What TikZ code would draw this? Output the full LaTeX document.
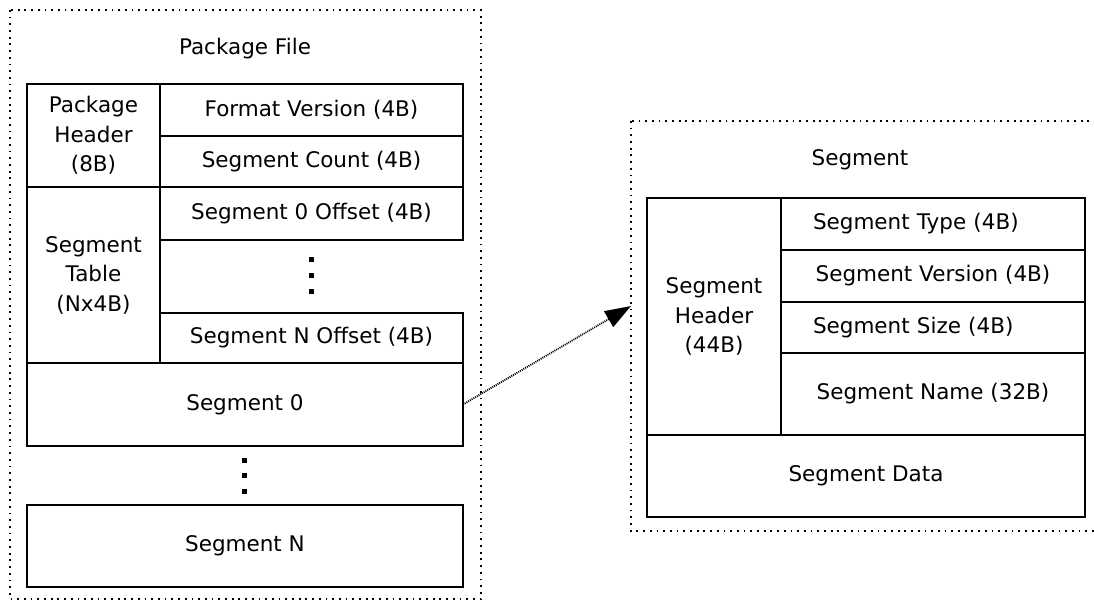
\documentclass[tikz,border=0pt]{standalone}
\usepackage{fontspec}
\setmainfont{DejaVu Sans}
\usetikzlibrary{arrows.meta,positioning}

\begin{document}
\begin{tikzpicture}[
    x=1pt, y=-1pt,
    every node/.style={
        font=\fontsize{21.5}{29.5}\selectfont
    },
    field/.style={
        draw, line width=1.8pt,
        rectangle,
        inner sep=0pt, outer sep=0pt,
        align=center
    },
    region/.style={
        draw, line width=1.8pt,
        dash pattern=on 1.8pt off 4.9pt
    },
    blob/.style={
        fill, rectangle,
        minimum size=5pt, inner sep=0pt
    },
    flow/.style={
        line width=1.8pt,
        dash pattern=on 1pt off 1pt,
        -{Triangle[length=26pt,width=18pt]}
    }
]
\fill[white] (0,0) rectangle (1094,601);
\useasboundingbox (0,0) rectangle (1094,601);

% package file
\draw[region] (10,10) rectangle (481,599);
\node (pkgtitle) at (245,49) {Package File};
\node[field, minimum width=133pt, minimum height=103pt, anchor=north west] (pkghdr) at (27,84) {Package\\Header\\(8B)};
\node[field, minimum width=303pt, minimum height=52pt, anchor=north west] (fmtver) at (pkghdr.north east) {Format Version (4B)};
\node[field, minimum width=303pt, minimum height=51pt, anchor=north] (segcount) at (fmtver.south) {Segment Count (4B)};
\node[field, minimum width=133pt, minimum height=176pt, anchor=north] (segtable) at (pkghdr.south) {Segment\\Table\\(Nx4B)};
\node[field, minimum width=303pt, minimum height=53pt, anchor=north] (off0) at (segcount.south) {Segment 0 Offset (4B)};
\node[field, minimum width=303pt, minimum height=50pt, anchor=south west] (offn) at (segtable.south east) {Segment N Offset (4B)};
\node[field, minimum width=436pt, minimum height=83pt, anchor=north west] (seg0) at (segtable.south west) {Segment 0};
\node[field, minimum width=436pt, minimum height=82pt, anchor=north west] (segn) at (27,505) {Segment N};
\foreach \y in {260,276,292} \node[blob] (tdot\y) at (311,\y) {};
\foreach \y in {460,475,491} \node[blob] (sdot\y) at (244,\y) {};

% segment
\draw[region] (631,121) rectangle (1100,531);
\node (segtitle) at (860,160) {Segment};
\node[field, minimum width=134pt, minimum height=237pt, anchor=north west] (seghdr) at (647,198) {Segment\\Header\\(44B)};
\node[field, minimum width=304pt, minimum height=52pt, anchor=north west, text width=240pt, align=left] (segtype) at (seghdr.north east) {Segment Type (4B)};
\node[field, minimum width=304pt, minimum height=52pt, anchor=north] (segver) at (segtype.south) {Segment Version (4B)};
\node[field, minimum width=304pt, minimum height=51pt, anchor=north, text width=240pt, align=left] (segsize) at (segver.south) {Segment Size (4B)};
\node[field, minimum width=304pt, minimum height=82pt, anchor=north] (segname) at (segsize.south) {Segment Name (32B)};
\node[field, minimum width=438pt, minimum height=82pt, anchor=north west] (segdata) at (seghdr.south west) {Segment Data};

\coordinate (segin) at (631,306);
\draw[flow] (seg0.east) -- (segin);
\end{tikzpicture}
\end{document}
